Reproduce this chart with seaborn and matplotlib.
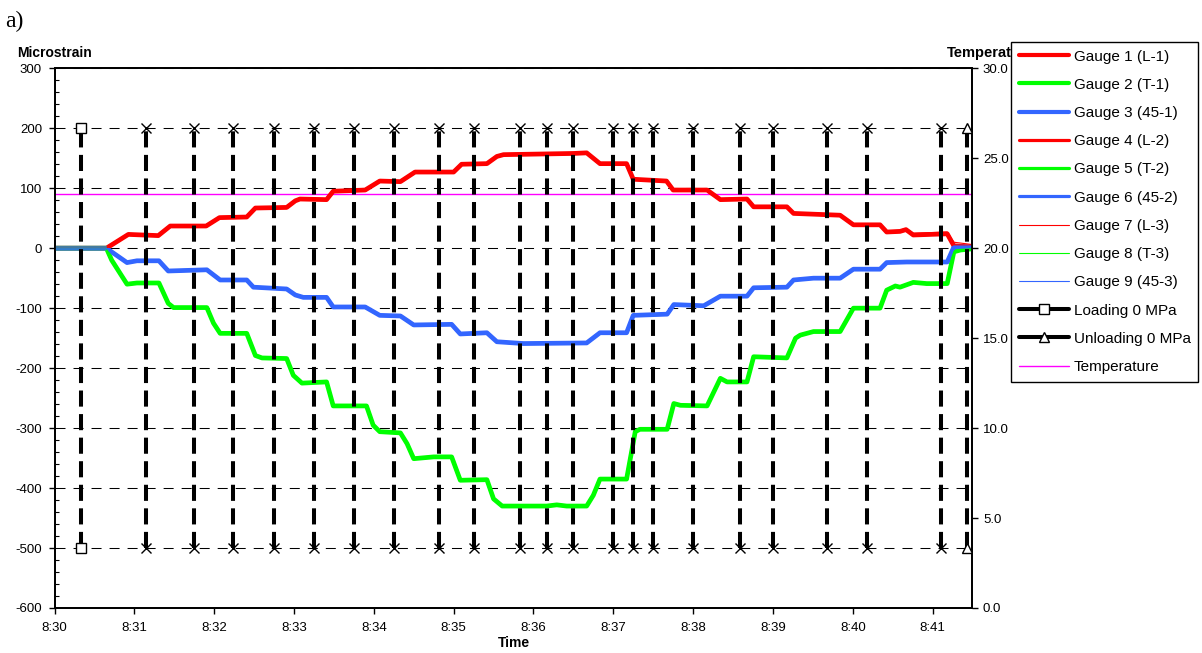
import numpy as np
import matplotlib
matplotlib.use("Agg")
import matplotlib.pyplot as plt
from matplotlib.lines import Line2D
from matplotlib.ticker import MultipleLocator
import seaborn as sns

# ---- strain readings (seconds after 8:30, microstrain) ----
t_long = [0, 39, 55.5, 78, 87, 114, 124, 144.5, 151, 174.5,
          181, 184.5, 204.5, 209.5, 233.5, 244.5, 260, 271, 300, 306,
          325, 332.5, 337.5, 390, 400, 410, 430, 435, 460, 465,
          490.5, 500.5, 520.5, 525.5, 550.5, 555.5, 590.5, 600.5, 620.5, 625.5,
          635.5, 640, 645.5, 671, 676, 690]
strain_l1 = [0, 0, 23, 21, 37, 37, 51, 52, 67, 68,
             79, 82, 81, 95, 97, 112, 111, 127, 127, 140,
             141, 153, 156, 158, 159, 141, 141, 115, 112, 97,
             97, 81, 82, 69, 69, 58, 55, 39, 39, 27,
             28, 31, 22, 24, 4, 2]
strain_l2 = [0, 0, 23, 21, 37, 37, 51, 52, 67, 68,
             79, 82, 81, 95, 97, 112, 111, 127, 127, 140,
             141, 153, 156, 158, 159, 141, 141, 115, 112, 97,
             97, 81, 82, 69, 69, 58, 55, 39, 39, 27,
             28, 31, 22, 24, 4, 2]
strain_l3 = [0, 0, 23, 21, 37, 37, 51, 52, 67, 68,
             79, 82, 81, 95, 97, 112, 111, 127, 127, 140,
             141, 153, 156, 158, 159, 141, 141, 115, 112, 97,
             97, 81, 82, 69, 69, 58, 56, 40, 40, 29,
             30, 33, 25, 27, 10, 6]

t_trans = [0, 39, 43, 54.5, 62, 78.5, 85.5, 89.5, 114.5, 119.5,
           124.5, 144.5, 151, 156, 174.5, 179.5, 186, 204.5, 209.5, 234.5,
           239.5, 244.5, 260, 265, 270, 285, 298.5, 305, 325, 330,
           336.5, 370, 377.5, 385, 400, 405, 410, 430, 436.5, 440,
           460.5, 465.5, 470.5, 490.5, 500.5, 505.5, 520.5, 525.5, 550.5, 557,
           560.5, 570.5, 590.5, 600.5, 620.5, 625.5, 632, 635.5, 645.5, 655.5,
           671, 676, 681, 690]
strain_t1 = [0, 0, -20, -60, -58, -58, -92, -99, -99, -125,
             -142, -142, -179, -183, -184, -212, -225, -223, -263, -263,
             -295, -306, -308, -326, -351, -348, -348, -387, -386, -418,
             -430, -430, -428, -430, -430, -412, -385, -385, -306, -302,
             -302, -259, -262, -263, -217, -223, -223, -181, -183, -150,
             -145, -139, -139, -100, -100, -70, -63, -65, -57, -59,
             -59, -6, -3, -1]
strain_t2 = strain_t1
strain_t3 = strain_t1

t_diag = [0, 39, 54.5, 62, 78.5, 85.5, 114.5, 124.5, 144.5, 149.5,
          174.5, 181, 187, 204.5, 209.5, 233.5, 244.5, 260, 270, 298.5,
          305, 325, 332.5, 352.5, 400, 410, 430, 435, 460.5, 465.5,
          488, 500.5, 520.5, 525.5, 550.5, 555.5, 570.5, 590.5, 600.5, 620.5,
          625.5, 640.5, 671, 676, 690]
strain_d1 = [0, 0, -24, -21, -21, -38, -36, -53, -53, -65,
             -68, -78, -82, -82, -98, -98, -112, -113, -128, -127,
             -143, -141, -156, -159, -158, -141, -141, -112, -110, -94,
             -96, -80, -80, -66, -65, -53, -50, -50, -35, -35,
             -24, -23, -23, 2, 2]
strain_d2 = strain_d1
strain_d3 = strain_d1

# ---- temperature ----
t_temp = [0, 690]
temperature = [23.0, 23.0]

# ---- load step events (seconds after 8:30) ----
load_times = [20, 69, 105, 134, 165, 195, 225, 255, 289, 315, 350, 370,
              390, 420, 435, 450, 480, 515, 540, 581, 611, 666, 686]
load_kinds = ["load0"] + ["step"] * 21 + ["unload0"]
load_levels = [-500, 200]

time_labels = ["8:30", "8:31", "8:32", "8:33", "8:34", "8:35",
               "8:36", "8:37", "8:38", "8:39", "8:40", "8:41"]

RED, GREEN, BLUE, MAGENTA = "#FF0000", "#00FF00", "#3366FF", "#FF00FF"

sns.set_style("ticks")
plt.rcParams["font.family"] = ["Liberation Sans", "DejaVu Sans"]
plt.rcParams["axes.unicode_minus"] = False
for key in ["text.color", "axes.labelcolor", "xtick.color", "ytick.color", "axes.edgecolor"]:
    plt.rcParams[key] = "black"

W, H = 1202, 653
fig = plt.figure(figsize=(W / 100, H / 100), dpi=100)
left, right, top, bottom = 54.5, 972.5, 68.3, 608.0
ax = fig.add_axes([left / W, 1 - bottom / H, (right - left) / W, (bottom - top) / H])
ax2 = ax.twinx()
ax.set_zorder(ax2.get_zorder() + 1)
ax.patch.set_visible(False)

series = [
    ("Gauge 1 (L-1)", t_long, strain_l1, RED, 3.4),
    ("Gauge 2 (T-1)", t_trans, strain_t1, GREEN, 3.4),
    ("Gauge 3 (45-1)", t_diag, strain_d1, BLUE, 3.4),
    ("Gauge 4 (L-2)", t_long, strain_l2, RED, 2.3),
    ("Gauge 5 (T-2)", t_trans, strain_t2, GREEN, 2.3),
    ("Gauge 6 (45-2)", t_diag, strain_d2, BLUE, 2.3),
    ("Gauge 7 (L-3)", t_long, strain_l3, RED, 0.8),
    ("Gauge 8 (T-3)", t_trans, strain_t3, GREEN, 0.8),
    ("Gauge 9 (45-3)", t_diag, strain_d3, BLUE, 0.8),
]

handles, labels = [], []
for name, t, v, color, lw in series:
    sns.lineplot(x=t, y=v, ax=ax, color=color, lw=lw, estimator=None,
                 sort=False, legend=False, zorder=2)
    legend_lw = 3.0 if lw > 3 else lw
    handles.append(Line2D([], [], color=color, lw=legend_lw))
    labels.append(name)

# load step markers joined by heavy dashed verticals
marker_style = {
    "load0": dict(marker="s", ms=6.5, mfc="white"),
    "step": dict(marker="x", ms=7, mfc="none"),
    "unload0": dict(marker="^", ms=7, mfc="white"),
}
for t, kind in zip(load_times, load_kinds):
    ax.plot([t, t], load_levels, color="black", lw=2.9,
            linestyle=(0, (4.0, 1.85)), mec="black", mew=1.0,
            zorder=4, **marker_style[kind])

handles.append(Line2D([], [], color="black", lw=2.9, marker="s", ms=6.5,
                      mfc="white", mec="black", mew=1.0))
labels.append("Loading 0 MPa")
handles.append(Line2D([], [], color="black", lw=2.9, marker="^", ms=7,
                      mfc="white", mec="black", mew=1.0))
labels.append("Unloading 0 MPa")

sns.lineplot(x=t_temp, y=temperature, ax=ax2, color=MAGENTA, lw=1.0,
             estimator=None, legend=False)
handles.append(Line2D([], [], color=MAGENTA, lw=1.0))
labels.append("Temperature")

# axes, ticks, grid
ax.set_xlim(0, 690)
ax.set_ylim(-600, 300)
ax2.set_ylim(0, 30)
ax.set_xticks(np.arange(len(time_labels)) * 60)
ax.set_xticklabels(time_labels)
ax.set_yticks(np.arange(-600, 301, 100))
ax.yaxis.set_minor_locator(MultipleLocator(20))
ax2.set_yticks(np.arange(0, 31, 5))
ax2.set_yticklabels([f"{v:.1f}" for v in np.arange(0, 31, 5)])
ax.set_xlabel("")
ax.set_ylabel("")
ax2.set_ylabel("")

ax.yaxis.grid(True, which="major", color="black", lw=0.75,
              linestyle=(0, (9.6, 7.7)))
ax.xaxis.grid(False)
ax.set_axisbelow(True)

ax.tick_params(axis="y", which="major", direction="out", length=4, width=1,
               labelsize=9.5, pad=5, left=True)
ax.tick_params(axis="y", which="minor", direction="in", length=3, width=0.8,
               left=True)
ax.tick_params(axis="x", which="major", direction="out", length=4, width=1,
               labelsize=9.5, pad=6, bottom=True)
ax2.tick_params(axis="y", which="major", direction="out", length=4, width=1,
                labelsize=9.5, pad=3.5, right=True)

for a in (ax, ax2):
    for sp in a.spines.values():
        sp.set_visible(True)
        sp.set_color("black")
        sp.set_linewidth(1.3)

# titles
fig.text(5 / W, 1 - 21 / H, "a)", family=["Liberation Serif", "DejaVu Serif"],
         size=17, ha="left", va="center")
fig.text(17 / W, 1 - 53 / H, "Microstrain", weight="bold", size=10,
         ha="left", va="center")
fig.text(947 / W, 1 - 53 / H, "Temperature", weight="bold", size=10.5,
         ha="left", va="center")
fig.text((left + right) / 2 / W, 1 - 643 / H, "Time", weight="bold", size=10,
         ha="center", va="center")

leg = fig.legend(handles, labels, loc="upper left",
                 bbox_to_anchor=(1011 / W, 1 - 42 / H), borderaxespad=0,
                 frameon=True, fancybox=False, framealpha=1, edgecolor="black",
                 fontsize=11, labelspacing=0.93, handlelength=3.3,
                 handletextpad=0.3, borderpad=0.5)
leg.get_frame().set_linewidth(1.0)
leg.set_zorder(10)

fig.savefig("out.png", dpi=100, facecolor="white")
